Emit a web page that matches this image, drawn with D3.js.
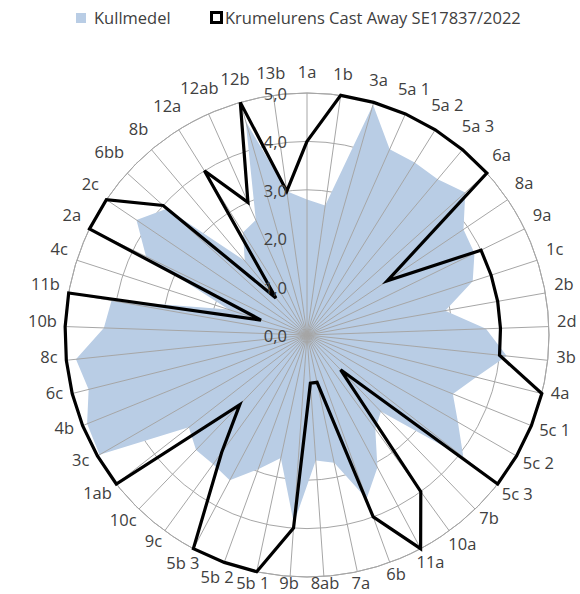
<!DOCTYPE html>
<html><head><meta charset="utf-8">
<script src="https://cdn.jsdelivr.net/npm/d3@7"></script>
<style>body{margin:0;background:#fff}svg{display:block}</style>
</head><body>
<svg id="c" width="580" height="594"></svg>
<script>
const categories = ["1a","1b","3a","5a 1","5a 2","5a 3","6a","8a","9a","1c","2b","2d","3b","4a","5c 1","5c 2","5c 3","7b","10a","11a","6b","7a","8ab","9b","5b 1","5b 2","5b 3","9c","10c","1ab","3c","4b","6c","8c","10b","11b","4c","2a","2c","6bb","8b","12a","12ab","12b","13b"];
const kullmedel = [2.8,2.7,4.95,4.2,4.2,4.2,4.4,3.9,3.85,3.6,2.9,3.7,4.15,3.6,3.25,3.6,4.1,2.2,2.4,3.1,3.6,2.7,2.6,3.9,2.6,2.95,3.4,3.3,3.3,3.1,4.95,4.9,4.65,4.8,4.2,4.1,1.7,3.7,4.25,3.9,2.0,2.5,2.6,4.6,3.0];
const dog = [4,5,5,5,5,5,5,2,4,4,4,4,4,5,5,5,5,1,4,5,4,1,1,4,5,5,5,3,2,5,5,5,5,5,5,5,1,5,5,4,1,4,3,5,3];
const ticks = [0,1,2,3,4,5];
const tickLabels = ["0,0","1,0","2,0","3,0","4,0","5,0"];
const seriesNames = ["Kullmedel","Krumelurens Cast Away SE17837/2022"];

const W = 580, H = 594, cx = 307, cy = 335, R = 242;
const FONT = "Open Sans, sans-serif", FS = 16.5, TXT = "#404040";
const BLUE = "#b9cde5", GRID = "#a6a6a6";

const svg = d3.select("#c");
const n = categories.length;
const ang = d3.scalePoint().domain(categories).range([0, 2*Math.PI*(n-1)/n]);
const rad = d3.scaleLinear().domain([0, 5]).range([0, R]);

const g = svg.append("g").attr("transform", `translate(${cx},${cy})`);

// value grid circles
g.selectAll("circle.grid").data(ticks.slice(1)).join("circle")
  .attr("class","grid").attr("r", d => rad(d))
  .attr("fill","none").attr("stroke", GRID).attr("stroke-width",1);

// series 1: filled area
const line = d3.lineRadial().curve(d3.curveLinearClosed);
const pts = vals => categories.map((c,i) => [ang(c), rad(vals[i])]);
g.append("path").attr("d", line(pts(kullmedel))).attr("fill", BLUE).attr("stroke","none");

// spokes
g.selectAll("line.spoke").data(categories).join("line")
  .attr("class","spoke")
  .attr("x1",0).attr("y1",0)
  .attr("x2", c => rad(5)*Math.sin(ang(c)))
  .attr("y2", c => -rad(5)*Math.cos(ang(c)))
  .attr("stroke", GRID).attr("stroke-width",1);

// outer ring on top
g.append("circle").attr("r", rad(5)).attr("fill","none").attr("stroke", GRID).attr("stroke-width",1);

// series 2: line
g.append("path").attr("d", line(pts(dog))).attr("fill","none")
  .attr("stroke","#000").attr("stroke-width",3.2).attr("stroke-linejoin","miter");

// tick labels
g.selectAll("text.tick").data(ticks).join("text")
  .attr("class","tick")
  .attr("x", -20).attr("y", d => -rad(d) + 1)
  .attr("dy","0.36em").attr("text-anchor","end")
  .attr("font-family", FONT).attr("font-size", FS).attr("fill", TXT)
  .text((d,i) => tickLabels[i]);

// category labels
const r0 = R + 8;
const yMax = H - cy - FS*0.35 - FS*0.28;
const labs = g.selectAll("text.cat").data(categories).join("text")
  .attr("class","cat")
  .attr("font-family", FONT).attr("font-size", FS).attr("fill", TXT)
  .attr("text-anchor","middle").attr("dy","0.35em")
  .text(d => d);
labs.each(function(c){
  const a = ang(c), s = Math.sin(a), co = -Math.cos(a);
  const w = this.getComputedTextLength(), h = FS*0.9;
  const sup = (w/2)*Math.abs(s) + (h/2)*Math.abs(co);
  const rr = r0 + sup;
  d3.select(this).attr("x", rr*s).attr("y", Math.min(rr*co - 5, yMax));
});

// legend
const lg = svg.append("g");
lg.append("rect").attr("x",76).attr("y",13).attr("width",10).attr("height",10).attr("fill",BLUE);
lg.append("text").attr("x",94).attr("y",18).attr("dy","0.35em")
  .attr("font-family",FONT).attr("font-size",FS).attr("fill",TXT).text(seriesNames[0]);
lg.append("rect").attr("x",211.5).attr("y",12.5).attr("width",10).attr("height",10)
  .attr("fill","#fff").attr("stroke","#000").attr("stroke-width",3);
lg.append("text").attr("x",225).attr("y",18).attr("dy","0.35em")
  .attr("font-family",FONT).attr("font-size",FS).attr("fill",TXT).text(seriesNames[1]);
</script>
</body></html>
